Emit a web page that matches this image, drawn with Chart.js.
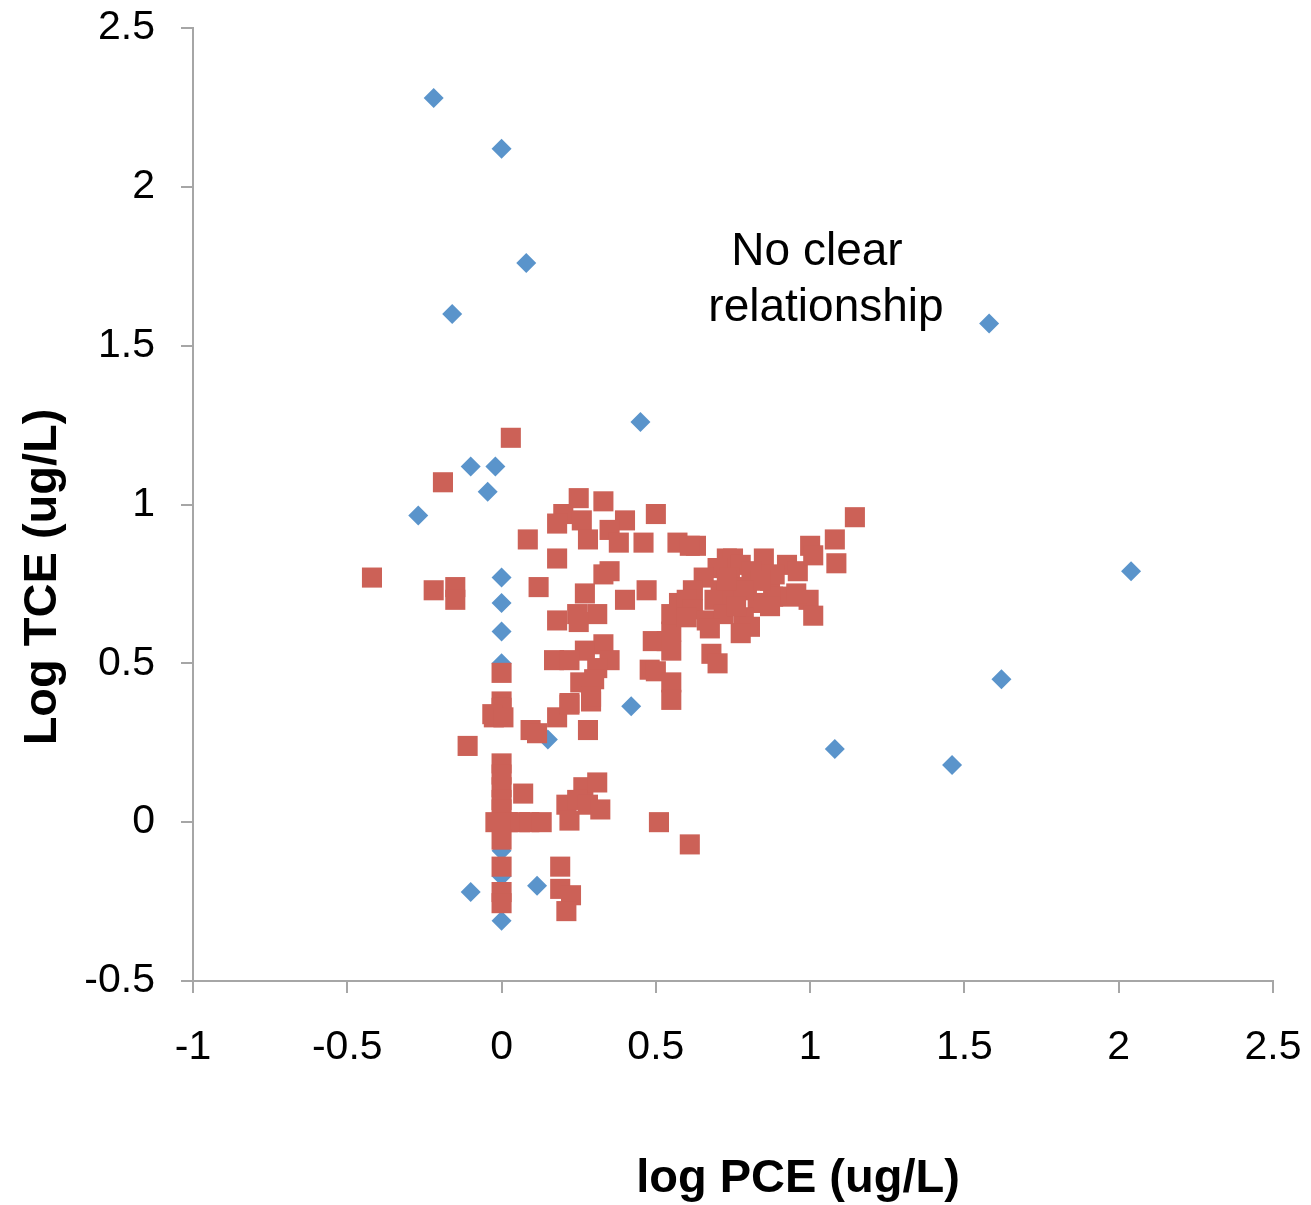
<!DOCTYPE html>
<html>
<head>
<meta charset="utf-8">
<script src="https://cdn.jsdelivr.net/npm/chart.js@4/dist/chart.umd.min.js"></script>
<style>
html,body{margin:0;padding:0;background:#fff;}
#c{display:block;}
</style>
</head>
<body>
<canvas id="c" width="1311" height="1205"></canvas>
<script>
// ---- data ----
const xTickValues = [-1, -0.5, 0, 0.5, 1, 1.5, 2, 2.5];
const xTickLabels = ['-1', '-0.5', '0', '0.5', '1', '1.5', '2', '2.5'];
const yTickValues = [-0.5, 0, 0.5, 1, 1.5, 2, 2.5];
const yTickLabels = ['-0.5', '0', '0.5', '1', '1.5', '2', '2.5'];
const xTitle = 'log PCE (ug/L)';
const yTitle = 'Log TCE (ug/L)';
const noteLines = ['No clear', 'relationship'];

// Blue diamonds (series 1)
const blueX = [-0.22, 0.0, 0.08, -0.16, 1.58, 0.45, -0.10, -0.02, -0.045, -0.27, 0, 0, 0, 0, 2.04, 1.62, 0.42, 0.15, 1.08, 1.46, -0.10, 0.115, 0, 0, 0];
const blueY = [2.28, 2.12, 1.76, 1.60, 1.57, 1.26, 1.12, 1.12, 1.04, 0.965, 0.77, 0.69, 0.60, 0.50, 0.79, 0.45, 0.365, 0.26, 0.23, 0.18, -0.22, -0.20, -0.31, -0.09, -0.17];

// Red squares (series 2)
const redX = [
  0.03, -0.19, -0.42, -0.22, -0.15, -0.15, -0.11,
  0.0, 0.0, 0.0, -0.03, -0.025, 0.006,
  0, 0, 0, 0, 0, -0.02, 0.02, 0.06, 0.09, 0.13, 0, 0, 0, 0,
  0.07, 0.094, 0.115, 0.18, 0.22, 0.29, 0.28,
  0.19, 0.19, 0.225, 0.21,
  0.265, 0.31, 0.21, 0.245, 0.28, 0.32, 0.22,
  0.51, 0.61,
  0.085, 0.12, 0.18,
  0.20, 0.18, 0.25, 0.33, 0.26, 0.40, 0.35, 0.38, 0.28, 0.50, 0.46, 0.57, 0.63, 0.61,
  0.33, 0.35, 0.27, 0.40, 0.47,
  0.245, 0.31, 0.18, 0.25, 0.33, 0.27, 0.35, 0.17, 0.22, 0.31, 0.255, 0.30, 0.29, 0.22,
  0.48, 0.50, 0.49, 0.535, 0.55, 0.55, 0.55, 0.575, 0.55, 0.55,
  0.68, 0.70,
  0.73, 0.75, 0.85, 0.925, 0.70, 0.775, 0.96, 0.655, 0.74, 0.83, 0.87, 0.62, 0.71, 0.795,
  0.88, 0.935, 0.995, 0.60, 0.69, 0.75, 0.83, 1.01, 0.87, 0.62, 0.665, 0.72, 0.785, 0.805,
  0.775, 0.675, 0.60, 0.81, 0.885, 0.84, 0.785, 0.73, 0.76, 0.955,
  1.145, 1.08, 1.0, 1.01, 1.085
];
const redY = [
  1.21, 1.07, 0.77, 0.73, 0.74, 0.70, 0.24,
  0.47, 0.38, 0.36, 0.34, 0.33, 0.33,
  0.185, 0.15, 0.11, 0.07, 0.04, 0.0, 0.0, 0.0, 0.0, 0.0, -0.055, -0.14, -0.22, -0.255,
  0.09, 0.29, 0.28, 0.33, 0.37, 0.38, 0.29,
  -0.14, -0.21, -0.23, -0.28,
  0.11, 0.125, 0.055, 0.07, 0.055, 0.04, 0.005,
  0.0, -0.07,
  0.89, 0.74, 0.83,
  0.97, 0.94, 1.02, 1.01, 0.95, 0.95, 0.92, 0.88, 0.89, 0.97, 0.88, 0.88, 0.87, 0.87,
  0.78, 0.79, 0.72, 0.70, 0.73,
  0.655, 0.655, 0.635, 0.63, 0.56, 0.54, 0.51, 0.51, 0.51, 0.485, 0.44, 0.45, 0.395, 0.375,
  0.48, 0.475, 0.57, 0.57, 0.60, 0.54, 0.655, 0.69, 0.44, 0.385,
  0.53, 0.50,
  0.83, 0.83, 0.83, 0.81, 0.80, 0.81, 0.79, 0.77, 0.77, 0.78, 0.76, 0.73, 0.73, 0.74,
  0.71, 0.71, 0.70, 0.70, 0.70, 0.70, 0.69, 0.65, 0.68, 0.67, 0.635, 0.655, 0.645, 0.615,
  0.595, 0.61, 0.645, 0.79, 0.78, 0.76, 0.73, 0.76, 0.68, 0.72,
  0.96, 0.89, 0.87, 0.84, 0.815
];

const FONT = "'Liberation Sans', Arial, Helvetica, sans-serif";
const AXIS_COLOR = '#a6a6a6';

const toPoints = (xs, ys) => xs.map((x, i) => ({x: x, y: ys[i]}));

function zeroPad(s) {
  s.paddingTop = 0; s.paddingBottom = 0; s.paddingLeft = 0; s.paddingRight = 0;
}

const textPlugin = {
  id: 'texts',
  afterDraw(chart) {
    const ctx = chart.ctx;
    ctx.save();
    ctx.fillStyle = '#000';
    ctx.textBaseline = 'alphabetic';
    ctx.textAlign = 'center';
    // annotation
    ctx.font = '46px ' + FONT;
    ctx.fillText(noteLines[0], 817, 265);
    ctx.fillText(noteLines[1], 826, 321);
    // x title
    ctx.font = 'bold 47px ' + FONT;
    ctx.fillText(xTitle, 798, 1192);
    // y title
    ctx.translate(56, 577);
    ctx.rotate(-Math.PI / 2);
    ctx.fillText(yTitle, 0, 0);
    ctx.restore();
  }
};

new Chart(document.getElementById('c'), {
  type: 'scatter',
  data: {
    datasets: [
      {
        label: 'Series 1',
        data: toPoints(blueX, blueY),
        pointStyle: 'rectRot',
        pointRadius: 10,
        pointHoverRadius: 10,
        backgroundColor: '#5a94cb',
        borderColor: '#5a94cb',
        borderWidth: 0,
        order: 2
      },
      {
        label: 'Series 2',
        data: toPoints(redX, redY),
        pointStyle: 'rect',
        pointRadius: 14.2,
        pointHoverRadius: 14.2,
        backgroundColor: '#cc6157',
        borderColor: '#cc6157',
        borderWidth: 0,
        order: 1
      }
    ]
  },
  options: {
    responsive: false,
    animation: false,
    devicePixelRatio: 1,
    layout: {padding: {top: 28, right: 38, left: 0, bottom: 0}},
    plugins: {legend: {display: false}, tooltip: {enabled: false}},
    scales: {
      x: {
        type: 'linear',
        position: 'bottom',
        min: -1, max: 2.5,
        afterBuildTicks: s => { s.ticks = xTickValues.map(v => ({value: v})); },
        afterFit: s => { s.height = 224; zeroPad(s); },
        ticks: {
          color: '#000',
          font: {family: FONT, size: 41},
          padding: 30,
          maxRotation: 0,
          autoSkip: false,
          callback: (v, i) => xTickLabels[i]
        },
        grid: {display: true, drawOnChartArea: false, drawTicks: true, tickLength: 12, color: AXIS_COLOR, lineWidth: 2},
        border: {display: true, color: AXIS_COLOR, width: 2}
      },
      y: {
        type: 'linear',
        position: 'left',
        min: -0.5, max: 2.5,
        afterBuildTicks: s => { s.ticks = yTickValues.map(v => ({value: v})); },
        afterFit: s => { s.width = 193; zeroPad(s); },
        ticks: {
          color: '#000',
          font: {family: FONT, size: 41},
          padding: 26,
          autoSkip: false,
          callback: (v, i) => yTickLabels[i]
        },
        grid: {display: true, drawOnChartArea: false, drawTicks: true, tickLength: 12, color: AXIS_COLOR, lineWidth: 2},
        border: {display: true, color: AXIS_COLOR, width: 2}
      }
    }
  },
  plugins: [textPlugin]
});
</script>
</body>
</html>
